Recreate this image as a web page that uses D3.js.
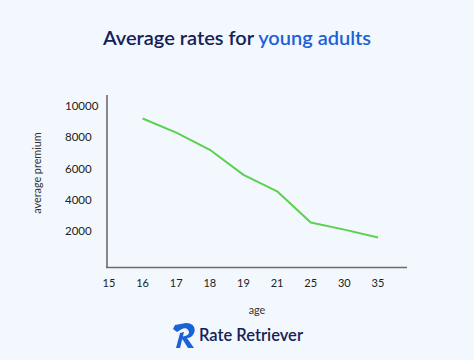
<!DOCTYPE html>
<html><head><meta charset="utf-8">
<script src="https://cdn.jsdelivr.net/npm/d3@7"></script>
<style>
html,body{margin:0;padding:0;background:#f3f8fe;}
svg{display:block;font-family:"Lato","Open Sans",sans-serif;}
</style></head>
<body>
<svg id="c" width="474" height="360"></svg>
<script>
const ages = ["15","16","17","18","19","21","25","30","35"];
const premiums = [null, 9200, 8300, 7200, 5600, 4550, 2550, 2100, 1600];
const yTicks = [2000, 4000, 6000, 8000, 10000];

const svg = d3.select("#c");
svg.append("rect").attr("width",474).attr("height",360).attr("fill","#f3f8fe");

const x = d3.scalePoint().domain(ages).range([109, 378]);
const y = d3.scaleLinear().domain([0, 10000]).range([262.5, 106]);

// title
const t = svg.append("text").attr("x",237).attr("y",45).attr("text-anchor","middle")
  .attr("font-size",20).attr("font-weight",600).attr("font-family","Lato, sans-serif");
t.append("tspan").attr("fill","#14215a").text("Average rates for ");
t.append("tspan").attr("fill","#1b62d8").text("young adults");

// axes lines
svg.append("line").attr("x1",107).attr("x2",107).attr("y1",95).attr("y2",268)
  .attr("stroke","#6b6b6b").attr("stroke-width",1.6);
svg.append("line").attr("x1",106).attr("x2",407).attr("y1",267.5).attr("y2",267.5)
  .attr("stroke","#6b6b6b").attr("stroke-width",1.6);

// y ticks
svg.append("g").selectAll("text").data(yTicks).join("text")
  .attr("x",65).attr("y",d=>y(d)).attr("dy","0.35em")
  .attr("font-size",11.5).attr("fill","#222").text(d=>d);

// x ticks
svg.append("g").selectAll("text").data(ages).join("text")
  .attr("x",d=>x(d)).attr("y",283).attr("dy","0.35em").attr("text-anchor","middle")
  .attr("font-size",11).attr("fill","#222").text(d=>d);

// axis titles
svg.append("text").attr("transform","translate(37,173) rotate(-90)").attr("text-anchor","middle")
  .attr("dy","0.35em").attr("font-size",10.8).attr("fill","#333").text("average premium");
svg.append("text").attr("x",257).attr("y",310).attr("dy","0.35em").attr("text-anchor","middle")
  .attr("font-size",10.8).attr("fill","#333").text("age");

// line
const data = ages.map((a,i)=>({a, v: premiums[i]})).filter(d=>d.v!=null);
svg.append("path").datum(data)
  .attr("fill","none").attr("stroke","#5ad150").attr("stroke-width",2)
  .attr("stroke-linejoin","round")
  .attr("d", d3.line().x(d=>x(d.a)).y(d=>y(d.v)));

// logo
const g = svg.append("g").attr("transform","translate(172,323)");
g.append("path").attr("fill","#1b62d8")
  .attr("d","M3 2 L14 0 C22 0 24 6 22 10 C21 13 18 15 15 15 L22 25 L16 25 L9 14 L13 13 C17 12 18 9 16 7 C15 5 12 5 10 6 L5 9 L1 6 Z M8 10 L12 9 L8 25 L4 25 Z");
svg.append("text").attr("x",199).attr("y",341).attr("font-size",16.5).attr("font-weight",600)
  .attr("fill","#14215a").attr("font-family","Lato, sans-serif").text("Rate Retriever");
</script>
</body></html>
